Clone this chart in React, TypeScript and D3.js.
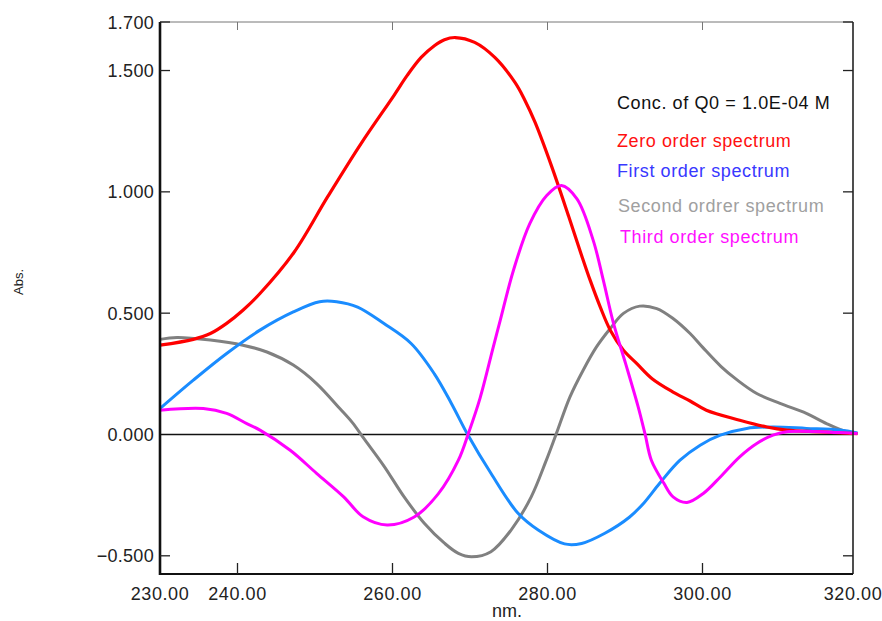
import React from "react";
import * as d3 from "d3";

// wavelength (nm) / absorbance pairs
const zeroOrderNm = [230, 234.3, 236.5, 238.6, 240.7, 242.9, 247.3, 251.6, 255.9, 260.2, 261.9, 263.7, 265.4, 266.7, 268.1, 270.6, 273.2, 275.8, 277, 278.4, 280.5, 282.7, 284.4, 285.5, 286.8, 288.1, 289.8, 291.5, 293.5, 296.2, 298.4, 300.5, 304.8, 308.3, 310.9, 315.2, 318.6, 320];
const zeroOrderAbs = [0.368, 0.392, 0.416, 0.458, 0.512, 0.581, 0.751, 0.978, 1.197, 1.398, 1.48, 1.554, 1.602, 1.627, 1.636, 1.616, 1.554, 1.451, 1.383, 1.286, 1.108, 0.902, 0.738, 0.636, 0.526, 0.43, 0.347, 0.293, 0.23, 0.175, 0.138, 0.1, 0.059, 0.031, 0.018, 0.011, 0.005, 0.003];

const firstOrderNm = [230, 234.3, 238.6, 242.9, 247.2, 250.6, 252.8, 255.5, 258.9, 262.4, 265.4, 267.6, 269.7, 272.7, 276.2, 278.8, 282.2, 284.4, 287.4, 290.6, 292.5, 294.5, 297.1, 299.7, 302.3, 305.7, 309.1, 313.4, 317.7, 320];
const firstOrderAbs = [0.107, 0.224, 0.334, 0.43, 0.505, 0.547, 0.547, 0.525, 0.457, 0.375, 0.25, 0.128, 0.0, -0.16, -0.325, -0.394, -0.451, -0.449, -0.407, -0.34, -0.28, -0.2, -0.106, -0.044, -0.003, 0.025, 0.031, 0.025, 0.018, 0.006];

const secondOrderNm = [230, 232.2, 236.5, 240.7, 243.8, 247.2, 250.2, 253.2, 254.8, 256.3, 258.9, 261.5, 264.1, 266.7, 268.5, 270.2, 272.7, 275.3, 277.9, 279.8, 281.1, 282.9, 284.6, 286.3, 288.1, 289.8, 291.9, 294.1, 296.2, 298.4, 300, 302.4, 304.5, 307, 310, 313.4, 316, 318.6, 320];
const secondOrderAbs = [0.392, 0.4, 0.389, 0.368, 0.34, 0.286, 0.21, 0.107, 0.05, -0.016, -0.13, -0.257, -0.366, -0.448, -0.49, -0.504, -0.483, -0.394, -0.257, -0.11, 0.0, 0.155, 0.265, 0.36, 0.437, 0.499, 0.529, 0.519, 0.478, 0.416, 0.36, 0.28, 0.224, 0.169, 0.128, 0.087, 0.045, 0.011, 0.004];

const thirdOrderNm = [230, 235.6, 238.6, 241.2, 242.9, 246.8, 250.2, 253.7, 256.2, 259.3, 262.8, 265.9, 268.5, 269.8, 271.3, 273, 273.9, 275.6, 277.7, 279.9, 281.8, 283.8, 285.9, 287.2, 288.5, 290.1, 291.7, 292.6, 293.4, 295, 296.2, 298, 300.1, 302.3, 304.8, 307, 309.1, 310.9, 317.7, 320];
const thirdOrderAbs = [0.1, 0.107, 0.087, 0.045, 0.018, -0.065, -0.16, -0.257, -0.339, -0.373, -0.34, -0.245, -0.106, 0.005, 0.15, 0.36, 0.47, 0.676, 0.868, 0.985, 1.026, 0.971, 0.8, 0.636, 0.46, 0.29, 0.114, 0.0, -0.106, -0.2, -0.257, -0.28, -0.243, -0.175, -0.092, -0.037, -0.003, 0.011, 0.008, 0.004];

const xTicks = [230, 240, 260, 280, 300, 320];
const yTicks = [1.7, 1.5, 1.0, 0.5, 0.0, -0.5];
const legendLabels = ["Zero order spectrum", "First order spectrum", "Second ordrer spectrum", "Third order spectrum"];
const concLabel = "Conc. of Q0 = 1.0E-04 M";

const W = 882;
const H = 621;
const plotLeft = 160;
const plotRight = 853;
const plotTop = 22;
const plotBottom = 574;

export default function App() {
  const x = d3.scaleLinear().domain([230, 320]).range([160, 857.5]);
  const y = d3.scaleLinear().domain([-0.575, 1.7]).range([plotBottom, plotTop]);

  const line = d3
    .line<[number, number]>()
    .x((d) => x(d[0]))
    .y((d) => y(d[1]))
    .curve(d3.curveCatmullRom.alpha(0.5));

  const series = [
    { nm: secondOrderNm, abs: secondOrderAbs, color: "#808080", w: 3 },
    { nm: firstOrderNm, abs: firstOrderAbs, color: "#1a8cff", w: 3 },
    { nm: zeroOrderNm, abs: zeroOrderAbs, color: "#ff0000", w: 3.2 },
    { nm: thirdOrderNm, abs: thirdOrderAbs, color: "#ff00ff", w: 3 },
  ];

  const legendColors = ["#ff1010", "#3838ff", "#a0a0a0", "#ff10ff"];
  const legendX = [617, 617, 618, 620];
  const legendY = [146.5, 176.5, 211.5, 243];

  const font = "Arial, 'Liberation Sans', sans-serif";
  const inner = [240, 260, 280, 300];

  return (
    <svg
      width={W}
      height={H}
      style={{ position: "absolute", left: 0, top: 0, background: "#fff" }}
      fontFamily={font}
    >
      <rect x={0} y={0} width={W} height={H} fill="#fff" />
      {/* zero line */}
      <line x1={plotLeft} x2={plotRight} y1={y(0)} y2={y(0)} stroke="#111" strokeWidth={1.3} />
      {/* curves */}
      {series.map((s, i) => (
        <path
          key={i}
          d={line(s.nm.map((v, j) => [v, s.abs[j]] as [number, number])) || ""}
          fill="none"
          stroke={s.color}
          strokeWidth={s.w}
          strokeLinejoin="round"
        />
      ))}
      {/* frame */}
      <line x1={plotLeft} x2={plotRight} y1={plotTop} y2={plotTop} stroke="#777" strokeWidth={1} />
      <line x1={plotRight} x2={plotRight} y1={plotTop} y2={plotBottom} stroke="#222" strokeWidth={1.6} />
      <line x1={plotLeft} x2={plotRight} y1={plotBottom} y2={plotBottom} stroke="#111" strokeWidth={2} />
      <line x1={plotLeft} x2={plotLeft} y1={plotTop} y2={plotBottom + 1} stroke="#111" strokeWidth={2.6} />
      {/* y ticks */}
      {yTicks.map((t) => (
        <g key={"y" + t}>
          {t !== 0 && (
            <>
              <line x1={plotLeft} x2={plotLeft + 10} y1={y(t)} y2={y(t)} stroke="#222" strokeWidth={1.3} />
              <line x1={plotRight - 10} x2={plotRight} y1={y(t)} y2={y(t)} stroke="#222" strokeWidth={1.3} />
            </>
          )}
          <text x={154} y={y(t) + 6.5} textAnchor="end" fontSize={18} fill="#222" letterSpacing={0.3}>
            {d3.format(".3f")(t)}
          </text>
        </g>
      ))}
      {/* x ticks */}
      {inner.map((t) => (
        <g key={"xt" + t}>
          <line x1={x(t)} x2={x(t)} y1={plotBottom} y2={plotBottom - 11} stroke="#222" strokeWidth={1.3} />
          <line x1={x(t)} x2={x(t)} y1={plotTop} y2={plotTop + 8} stroke="#777" strokeWidth={1} />
        </g>
      ))}
      {xTicks.map((t) => (
        <text
          key={"xl" + t}
          x={t === 320 ? plotRight : x(t)}
          y={600}
          textAnchor="middle"
          fontSize={18}
          fill="#222"
          letterSpacing={0.6}
        >
          {d3.format(".2f")(t)}
        </text>
      ))}
      <text x={507} y={617} textAnchor="middle" fontSize={18} fill="#222">
        nm.
      </text>
      <text
        transform="translate(23,282) rotate(-90)"
        textAnchor="middle"
        fontSize={13}
        fill="#222"
      >
        Abs.
      </text>
      {/* legend */}
      <text x={617} y={109} fontSize={18} fill="#111" letterSpacing={0.6}>
        {concLabel}
      </text>
      {legendLabels.map((l, i) => (
        <text key={l} x={legendX[i]} y={legendY[i]} fontSize={18} fill={legendColors[i]} letterSpacing={0.6}>
          {l}
        </text>
      ))}
    </svg>
  );
}
